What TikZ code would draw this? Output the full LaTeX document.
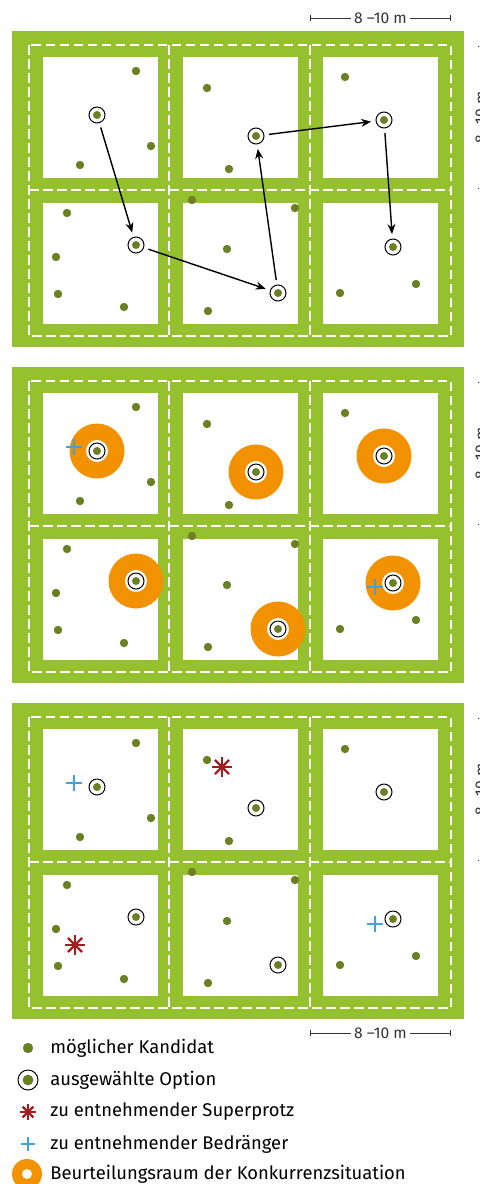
\documentclass[tikz,border=0pt]{standalone}
\usepackage{fontspec}
\setmainfont{Fira Sans}
\usetikzlibrary{arrows.meta}

\definecolor{grasgruen}{HTML}{95C12F}
\definecolor{kandidat}{HTML}{6B8023}
\definecolor{raumorange}{HTML}{F39200}
\definecolor{protzrot}{HTML}{A21D1F}
\definecolor{bedblau}{HTML}{3FA2DB}

\tikzset{
  option/.style={circle, draw=black, line width=0.5pt, fill=white, minimum size=8pt,
    inner sep=0pt, outer sep=2.5pt,
    path picture={\fill[kandidat] (path picture bounding box.center) circle (2pt);}},
  netz/.style={white, line width=0.7pt, dash pattern=on 4.75pt off 2.25pt},
  pfeil/.style={-{Stealth[length=5pt,width=4pt]}, line width=0.7pt},
  skala/.style={{Bar[width=3pt]}-{Bar[width=3pt]}, line width=0.4pt, black!80},
  skalatext/.style={fill=white, inner sep=1.8pt, font=\fontsize{7.8}{9}\selectfont},
  legtext/.style={anchor=west, inner sep=0pt, font=\fontsize{9.2}{11}\selectfont}
}

% Fläche mit Feldern, Rückegassen und Maßstab rechts
\newcommand{\grundflaeche}{%
  \fill[grasgruen] (12,31) rectangle (464,347);
  \foreach \x in {43,183,323}
    \foreach \y in {57,203}
      \fill[white] (\x,\y) rectangle ++(115,121);
  \draw[netz] (29,45) rectangle (451,336);
  \draw[netz] (169,45) -- (169,336) (310,45) -- (310,336) (29,190) -- (451,190);
  \draw[skala] (481,46) -- (481,189) node[midway, skalatext, rotate=90] {8 –10 m};
}

% Kandidaten und ausgewählte Optionen
\newcommand{\bestand}[1]{%
  \foreach \x/\y in {136/71, 151/146, 80/165, 207/88, 229/169, 345/77,
                     67/213, 56/257, 58/294, 124/307, 192/200, 295/208,
                     227/249, 208/311, 340/293, 416/284}
    \fill[kandidat] (\x,\y) circle (2.1pt);
  \foreach \n/\x/\y in {1/97/115, 2/136/245, 3/278/293, 4/256/136, 5/384/120, 6/393/247}
    \node[option] (#1\n) at (\x,\y) {};
}

\newcommand{\protz}[2]{%
  \foreach \w in {0,45,90,135}
    \draw[protzrot, line width=1.2pt] (#1) ++(\w:#2) -- ++(\w+180:2*#2);
}
\newcommand{\bedraenger}[2]{%
  \draw[bedblau, line width=1pt] (#1) ++(-#2,0) -- ++(2*#2,0) (#1) ++(0,-#2) -- ++(0,2*#2);
}
\newcommand{\raum}[2]{%
  \fill[raumorange] (#1,#2) circle (13.75pt);
  \fill[white] (#1,#2) circle (5.5pt);
}

\begin{document}
\begin{tikzpicture}[x=0.5pt, y=-0.5pt]
\useasboundingbox (0,0) rectangle (479,1184);
\clip (0,0) rectangle (479,1184);

% Maßstab oben
\draw[skala] (310,18) -- (451,18) node[midway, skalatext] {8 –10 m};

% Feld 1: Auswahlreihenfolge
\grundflaeche
\bestand{a}
\draw[pfeil] (a1) -- (a2);
\draw[pfeil] (a2) -- (a3);
\draw[pfeil] (a3) -- (a4);
\draw[pfeil] (a4) -- (a5);
\draw[pfeil] (a5) -- (a6);

% Feld 2: Beurteilungsraum
\begin{scope}[shift={(0,336)}]
  \grundflaeche
  \foreach \x/\y in {97/115, 136/245, 278/293, 256/136, 384/120, 393/247}
    {\raum{\x}{\y}}
  \bestand{b}
  \bedraenger{74,111}{4pt}
  \bedraenger{375,251}{4pt}
\end{scope}

% Feld 3: Entnahme
\begin{scope}[shift={(0,672)}]
  \grundflaeche
  \bestand{c}
  \bedraenger{74,111}{4pt}
  \bedraenger{375,252}{4pt}
  \protz{222,95}{5pt}
  \protz{75,273}{5pt}
\end{scope}

% Maßstab unten
\draw[skala] (310,1033) -- (451,1033) node[midway, skalatext] {8 –10 m};

% Legende
\fill[kandidat] (28,1048) circle (2.6pt);
\node[legtext] (t1) at (50,1048) {möglicher Kandidat};
\node[option, minimum size=10pt, path picture={\fill[kandidat] (path picture bounding box.center) circle (2.7pt);}] (l2) at (28,1080) {};
\node[legtext] (t2) at (50,1080) {ausgewählte Option};
\protz{28,1112}{3.8pt}
\node[legtext] (t3) at (50,1112) {zu entnehmender Superprotz};
\bedraenger{28,1144}{3.3pt}
\node[legtext] (t4) at (50,1144) {zu entnehmender Bedränger};
\fill[raumorange] (27,1174) circle (7.5pt);
\fill[white] (27,1174) circle (2.5pt);
\node[legtext] (t5) at (50,1174) {Beurteilungsraum der Konkurrenzsituation};
\end{tikzpicture}
\end{document}
